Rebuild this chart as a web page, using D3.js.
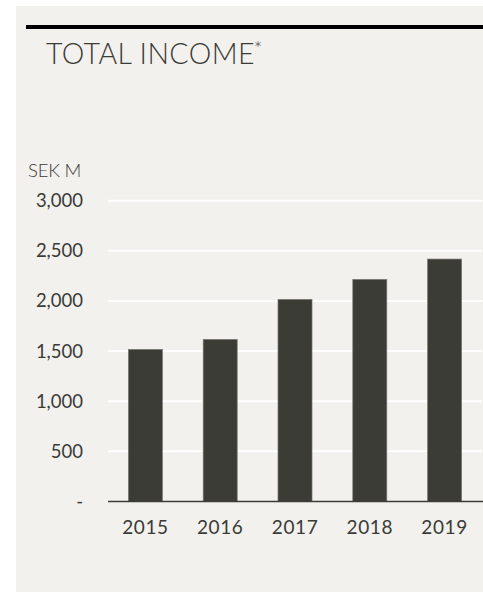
<!DOCTYPE html>
<html>
<head>
<meta charset="utf-8">
<script src="https://cdn.jsdelivr.net/npm/d3@7"></script>
<style>
  html, body { margin: 0; padding: 0; background: #ffffff; }
  svg { display: block; }
  text { font-family: Lato, "Open Sans", sans-serif; fill: #3a3a36; }
</style>
</head>
<body>
<svg id="chart" width="483" height="592"></svg>
<script>
// Total income per year, SEK million
const years = ["2015", "2016", "2017", "2018", "2019"];
const income = [1517, 1617, 2016, 2215, 2418];
const yTicks = [0, 500, 1000, 1500, 2000, 2500, 3000];

const svg = d3.select("#chart");
const W = 483, H = 592;

// panel background
svg.append("rect").attr("x", 16).attr("y", 6)
  .attr("width", W - 16).attr("height", H - 6).attr("fill", "#f2f1ee");

// heavy top rule
svg.append("rect").attr("x", 26).attr("y", 25)
  .attr("width", W - 26).attr("height", 4).attr("fill", "#000000");

// title
const title = svg.append("text").attr("x", 46).attr("y", 64)
  .attr("font-size", 28.5).attr("font-weight", 300)
  .style("letter-spacing", "0.4px")
  .text("TOTAL INCOME");
title.append("tspan").attr("font-size", 20).attr("dy", -8).attr("dx", -1).text("*");

// unit label
svg.append("text").attr("x", 28).attr("y", 177)
  .attr("font-size", 18.5).attr("font-weight", 300)
  .attr("fill", "#2e2e2a")
  .style("letter-spacing", "-0.2px")
  .text("SEK M");

const x = d3.scaleBand().domain(years).range([108, 482])
  .paddingInner(0.545).paddingOuter(0.2725);
const y = d3.scaleLinear().domain([0, 3000]).range([501.5, 200.7]);

// gridlines
svg.append("g").selectAll("line").data(yTicks.filter(d => d > 0)).join("line")
  .attr("x1", 108).attr("x2", 482)
  .attr("y1", d => y(d)).attr("y2", d => y(d))
  .attr("stroke", "#ffffff").attr("stroke-width", 2);

// y axis labels
const fmt = d3.format(",");
const yAxis = d3.axisLeft(y).tickValues(yTicks)
  .tickFormat(d => d === 0 ? "-" : fmt(d)).tickSize(0).tickPadding(0);
const ya = svg.append("g").attr("transform", "translate(83,0)").call(yAxis);
ya.select(".domain").remove();
ya.selectAll("text").attr("font-size", 18.5).attr("font-family", "Lato, sans-serif")
  .attr("font-weight", 400).attr("fill", "#42423d").style("letter-spacing", "0px");

// bars
svg.append("g").selectAll("rect").data(years).join("rect")
  .attr("x", d => x(d))
  .attr("y", (d, i) => y(income[i]))
  .attr("width", x.bandwidth())
  .attr("height", (d, i) => y(0) - y(income[i]))
  .attr("fill", "#3c3c36")
  .attr("stroke", "#7a7a74").attr("stroke-width", 0.7);

// baseline
svg.append("line").attr("x1", 108).attr("x2", W)
  .attr("y1", y(0)).attr("y2", y(0))
  .attr("stroke", "#3c3c36").attr("stroke-width", 1.6);

// x axis labels
const xAxis = d3.axisBottom(x).tickSize(0).tickPadding(0);
const xa = svg.append("g").attr("transform", "translate(0,520)").call(xAxis);
xa.select(".domain").remove();
xa.selectAll("text").attr("font-size", 19).attr("font-family", "Lato, sans-serif")
  .attr("font-weight", 400).attr("fill", "#42423d").attr("dy", "0.71em")
  .style("letter-spacing", "0.6px");
</script>
</body>
</html>
